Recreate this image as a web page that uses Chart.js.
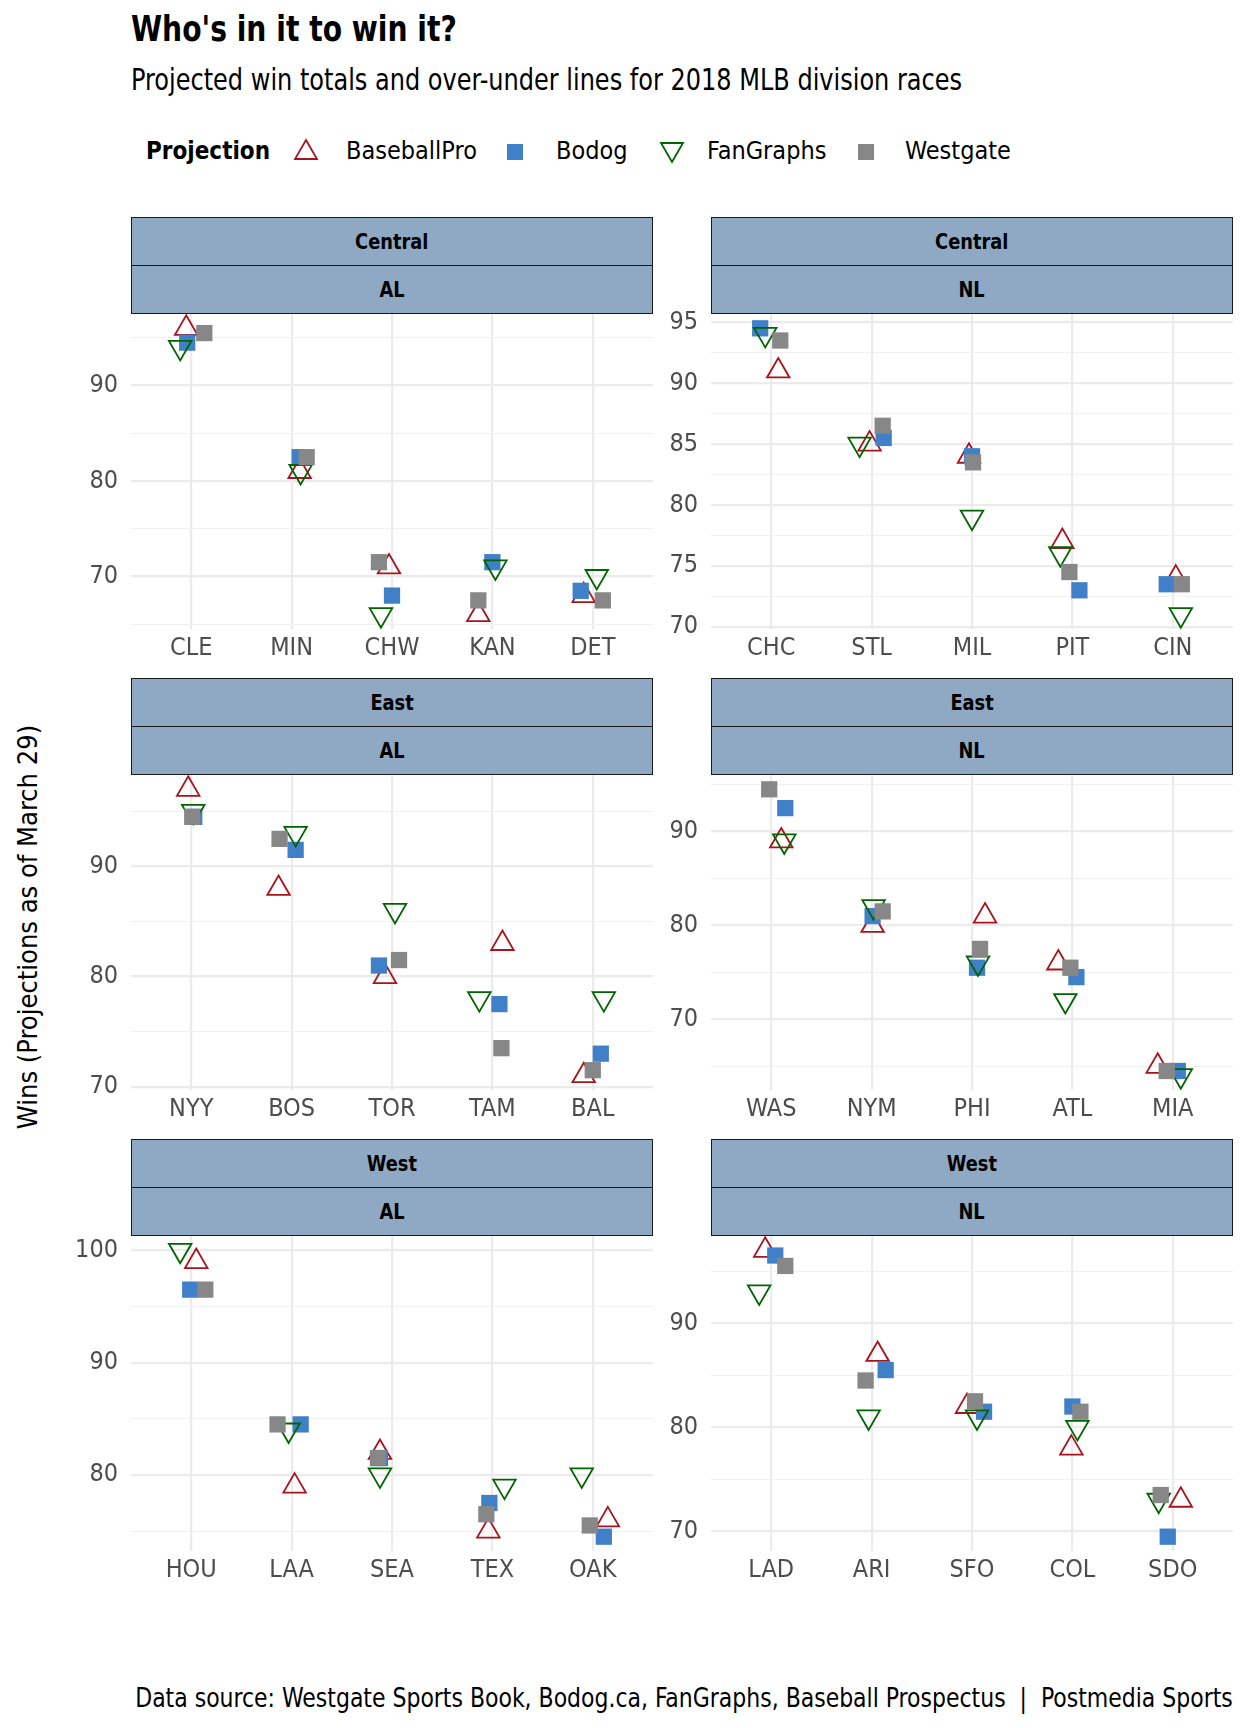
<!DOCTYPE html>
<html>
<head>
<meta charset="utf-8">
<script src="https://cdn.jsdelivr.net/npm/chart.js@4.4.1/dist/chart.umd.min.js"></script>
<style>
  body { margin: 0; width: 1248px; height: 1728px; background: #fff; position: relative; overflow: hidden;
         font-family: 'Liberation Sans Narrow', 'DejaVu Sans Condensed', sans-serif; color: #000; }
  .abs { position: absolute; white-space: nowrap; line-height: 1; }
  #title { left: 131px; top: 11px; font-size: 36px; font-weight: bold; transform: scaleX(0.87); transform-origin: left center; }
  #subtitle { left: 131px; top: 65px; font-size: 30px; transform: scaleX(0.89); transform-origin: left center; }
  .lg { top: 138px; font-size: 25px; }
  .mk { position: absolute; }
  .strip { position: absolute; box-sizing: border-box; background: #8FA8C4; border: 1.8px solid #1a1a1a;
           font-weight: bold; font-size: 22px; display: flex; align-items: center; justify-content: center; }
  .strip span { display: inline-block; transform: scaleX(0.9); }
  canvas { position: absolute; }
  #ytitle { left: 27px; top: 927px; font-size: 27px; transform: translate(-50%, -50%) rotate(-90deg); }
  #caption { right: 15px; top: 1684px; font-size: 27px; transform: scaleX(0.905); transform-origin: right center; }
</style>
</head>
<body>
<div id="title" class="abs">Who's in it to win it?</div>
<div id="subtitle" class="abs">Projected win totals and over-under lines for 2018 MLB division races</div>

<div class="abs lg" style="left:146px;font-weight:bold;font-size:24px;top:139px;">Projection</div>
<svg class="mk" style="left:293px;top:138px" width="26" height="26"><polygon points="13,2 24,21 2,21" fill="none" stroke="#A8141E" stroke-width="1.8"/></svg>
<div class="abs lg" style="left:346px;">BaseballPro</div>
<svg class="mk" style="left:506px;top:143px" width="18" height="18"><rect x="1" y="1" width="16" height="16" fill="#4080C8"/></svg>
<div class="abs lg" style="left:556px;">Bodog</div>
<svg class="mk" style="left:659px;top:138px" width="26" height="26"><polygon points="2,5 24,5 13,24" fill="none" stroke="#006400" stroke-width="1.8"/></svg>
<div class="abs lg" style="left:707px;">FanGraphs</div>
<svg class="mk" style="left:857px;top:143px" width="18" height="18"><rect x="1" y="1" width="16" height="16" fill="#878787"/></svg>
<div class="abs lg" style="left:905px;">Westgate</div>

<div id="ytitle" class="abs">Wins (Projections as of March 29)</div>
<div id="caption" class="abs">Data source: Westgate Sports Book, Bodog.ca, FanGraphs, Baseball Prospectus&nbsp; |&nbsp; Postmedia Sports</div>

<script>
// series order: BaseballPro, Bodog, FanGraphs, Westgate
const seriesNames = ['BaseballPro', 'Bodog', 'FanGraphs', 'Westgate'];

// AL Central
const teamsALCentral = ['CLE', 'MIN', 'CHW', 'KAN', 'DET'];
const bpALCentral    = [96, 81, 71, 66, 68];
const bodogALCentral = [94.5, 82.5, 68, 71.5, 68.5];
const fgALCentral    = [94, 81, 66, 71, 70];
const wgALCentral    = [95.5, 82.5, 71.5, 67.5, 67.5];
const jitterALCentral = [[-0.05, 0.08, -0.03, -0.14, -0.09], [-0.04, 0.08, 0, 0, -0.12],
                         [-0.11, 0.09, -0.11, 0.03, 0.04], [0.13, 0.15, -0.13, -0.14, 0.10]];
const ticksALCentral = [70, 80, 90];
const minorALCentral = [65, 75, 85, 95];

// NL Central
const teamsNLCentral = ['CHC', 'STL', 'MIL', 'PIT', 'CIN'];
const bpNLCentral    = [91, 85, 84, 77, 74];
const bodogNLCentral = [94.5, 85.5, 84, 73, 73.5];
const fgNLCentral    = [94, 85, 79, 76, 71];
const wgNLCentral    = [93.5, 86.5, 83.5, 74.5, 73.5];
const jitterNLCentral = [[0.07, -0.02, -0.03, -0.10, 0.03], [-0.11, 0.12, 0, 0.07, -0.06],
                         [-0.06, -0.12, 0, -0.12, 0.08], [0.09, 0.11, 0.01, -0.03, 0.09]];
const ticksNLCentral = [70, 75, 80, 85, 90, 95];
const minorNLCentral = [72.5, 77.5, 82.5, 87.5, 92.5];

// AL East
const teamsALEast = ['NYY', 'BOS', 'TOR', 'TAM', 'BAL'];
const bpALEast    = [97, 88, 80, 83, 71];
const bodogALEast = [94.5, 91.5, 81, 77.5, 73];
const fgALEast    = [95, 93, 86, 78, 78];
const wgALEast    = [94.5, 92.5, 81.5, 73.5, 71.5];
const jitterALEast = [[-0.03, -0.13, -0.07, 0.10, -0.09], [0.03, 0.04, -0.13, 0.07, 0.08],
                      [0.02, 0.04, 0.03, -0.13, 0.11], [0.01, -0.12, 0.07, 0.09, 0]];
const ticksALEast = [70, 80, 90];
const minorALEast = [75, 85, 95];

// NL East
const teamsNLEast = ['WAS', 'NYM', 'PHI', 'ATL', 'MIA'];
const bpNLEast    = [89, 80, 81, 76, 65];
const bodogNLEast = [92.5, 81, 75.5, 74.5, 64.5];
const fgNLEast    = [89, 82, 76, 72, 64];
const wgNLEast    = [94.5, 81.5, 77.5, 75.5, 64.5];
const jitterNLEast = [[0.10, 0.01, 0.13, -0.14, -0.15], [0.14, 0.01, 0.05, 0.04, 0.05],
                      [0.13, 0.02, 0.06, -0.07, 0.08], [-0.02, 0.11, 0.08, -0.02, -0.06]];
const ticksNLEast = [70, 80, 90];
const minorNLEast = [65, 75, 85, 95];

// AL West
const teamsALWest = ['HOU', 'LAA', 'SEA', 'TEX', 'OAK'];
const bpALWest    = [99, 79, 82, 75, 76];
const bodogALWest = [96.5, 84.5, 81.5, 77.5, 74.5];
const fgALWest    = [100, 84, 80, 79, 80];
const wgALWest    = [96.5, 84.5, 81.5, 76.5, 75.5];
const jitterALWest = [[0.05, 0.03, -0.12, -0.04, 0.15], [-0.01, 0.09, -0.12, -0.03, 0.11],
                      [-0.11, -0.03, -0.12, 0.12, -0.11], [0.14, -0.14, -0.14, -0.06, -0.03]];
const ticksALWest = [80, 90, 100];
const minorALWest = [75, 85, 95];

// NL West
const teamsNLWest = ['LAD', 'ARI', 'SFO', 'COL', 'SDO'];
const bpNLWest    = [97, 87, 82, 78, 73];
const bodogNLWest = [96.5, 85.5, 81.5, 82, 69.5];
const fgNLWest    = [93, 81, 81, 80, 73];
const wgNLWest    = [95.5, 84.5, 82.5, 81.5, 73.5];
const jitterNLWest = [[-0.06, 0.06, -0.05, -0.01, 0.08], [0.04, 0.14, 0.12, 0, -0.05],
                      [-0.12, -0.03, 0.05, 0.05, -0.14], [0.14, -0.06, 0.03, 0.08, -0.12]];
const ticksNLWest = [70, 80, 90];
const minorNLWest = [75, 85, 95];

// look of each series
const pointStyles = [
  {pointStyle: 'triangle', pointRadius: 13, pointBorderColor: '#A8141E', pointBackgroundColor: 'transparent', pointBorderWidth: 1.8, pointRotation: 0, order: 3},
  {pointStyle: 'rect', pointRadius: 11.5, pointBorderColor: '#4080C8', pointBackgroundColor: '#4080C8', pointBorderWidth: 0, pointRotation: 0, order: 2},
  {pointStyle: 'triangle', pointRadius: 13, pointBorderColor: '#006400', pointBackgroundColor: 'transparent', pointBorderWidth: 1.8, pointRotation: 180, order: 1},
  {pointStyle: 'rect', pointRadius: 11.5, pointBorderColor: '#878787', pointBackgroundColor: '#878787', pointBorderWidth: 0, pointRotation: 0, order: 0}
];

Chart.defaults.font.family = "'Liberation Sans Narrow', 'DejaVu Sans Condensed', sans-serif";
Chart.defaults.font.size = 25;
Chart.defaults.color = '#4d4d4d';

const plotW = 522, plotH = 315, yAxisW = 80, xAxisH = 50, topRoom = 24;

function makePanel(left, top, division, league, teams, series, jitter, major, minor) {
  // two strip labels above the panel
  const s1 = document.createElement('div');
  s1.className = 'strip';
  s1.style.cssText = `left:${left}px;top:${top - 97}px;width:${plotW}px;height:49px;`;
  s1.innerHTML = '<span>' + division + '</span>';
  document.body.appendChild(s1);
  const s2 = document.createElement('div');
  s2.className = 'strip';
  s2.style.cssText = `left:${left}px;top:${top - 49.5}px;width:${plotW}px;height:49.5px;`;
  s2.innerHTML = '<span>' + league + '</span>';
  document.body.appendChild(s2);

  const cv = document.createElement('canvas');
  cv.width = plotW + yAxisW;
  cv.height = plotH + xAxisH + topRoom;
  cv.style.left = (left - yAxisW) + 'px';
  cv.style.top = (top - topRoom) + 'px';
  document.body.appendChild(cv);

  const all = series.flat();
  const lo = Math.min(...all), hi = Math.max(...all);
  const pad = (hi - lo) * 0.05;
  const gridVals = major.concat(minor).sort((a, b) => a - b);

  const datasets = series.map((vals, s) => Object.assign({
    label: seriesNames[s],
    data: vals.map((v, i) => ({x: i + jitter[s][i], y: v})),
    clip: false
  }, pointStyles[s]));

  new Chart(cv, {
    type: 'scatter',
    data: {datasets: datasets},
    options: {
      responsive: false,
      animation: false,
      events: [],
      layout: {padding: {top: topRoom, left: 0, right: 0, bottom: 0}, autoPadding: false},
      plugins: {legend: {display: false}, tooltip: {enabled: false}},
      scales: {
        x: {
          type: 'linear', min: -0.6, max: teams.length - 0.4,
          afterBuildTicks: sc => { sc.ticks = teams.map((t, i) => ({value: i})); },
          afterFit: sc => { sc.height = xAxisH; sc.paddingLeft = 0; sc.paddingRight = 0; },
          ticks: {callback: v => teams[v], padding: 4, maxRotation: 0, autoSkip: false},
          grid: {color: '#EBEBEB', lineWidth: 2.2, drawTicks: false},
          border: {display: false}
        },
        y: {
          min: lo - pad, max: hi + pad,
          afterBuildTicks: sc => { sc.ticks = gridVals.map(v => ({value: v})); },
          afterFit: sc => { sc.width = yAxisW; sc.paddingTop = 0; sc.paddingBottom = 0; },
          ticks: {callback: v => major.includes(v) ? String(v) : '', padding: 13, autoSkip: false},
          grid: {
            color: c => major.includes(c.tick.value) ? '#EBEBEB' : '#F0F0F0',
            lineWidth: c => major.includes(c.tick.value) ? 2.2 : 1.1,
            drawTicks: false
          },
          border: {display: false}
        }
      }
    }
  });
}

makePanel(131, 314, 'Central', 'AL', teamsALCentral,
  [bpALCentral, bodogALCentral, fgALCentral, wgALCentral], jitterALCentral, ticksALCentral, minorALCentral);
makePanel(711, 314, 'Central', 'NL', teamsNLCentral,
  [bpNLCentral, bodogNLCentral, fgNLCentral, wgNLCentral], jitterNLCentral, ticksNLCentral, minorNLCentral);
makePanel(131, 775, 'East', 'AL', teamsALEast,
  [bpALEast, bodogALEast, fgALEast, wgALEast], jitterALEast, ticksALEast, minorALEast);
makePanel(711, 775, 'East', 'NL', teamsNLEast,
  [bpNLEast, bodogNLEast, fgNLEast, wgNLEast], jitterNLEast, ticksNLEast, minorNLEast);
makePanel(131, 1236, 'West', 'AL', teamsALWest,
  [bpALWest, bodogALWest, fgALWest, wgALWest], jitterALWest, ticksALWest, minorALWest);
makePanel(711, 1236, 'West', 'NL', teamsNLWest,
  [bpNLWest, bodogNLWest, fgNLWest, wgNLWest], jitterNLWest, ticksNLWest, minorNLWest);
</script>
</body>
</html>
